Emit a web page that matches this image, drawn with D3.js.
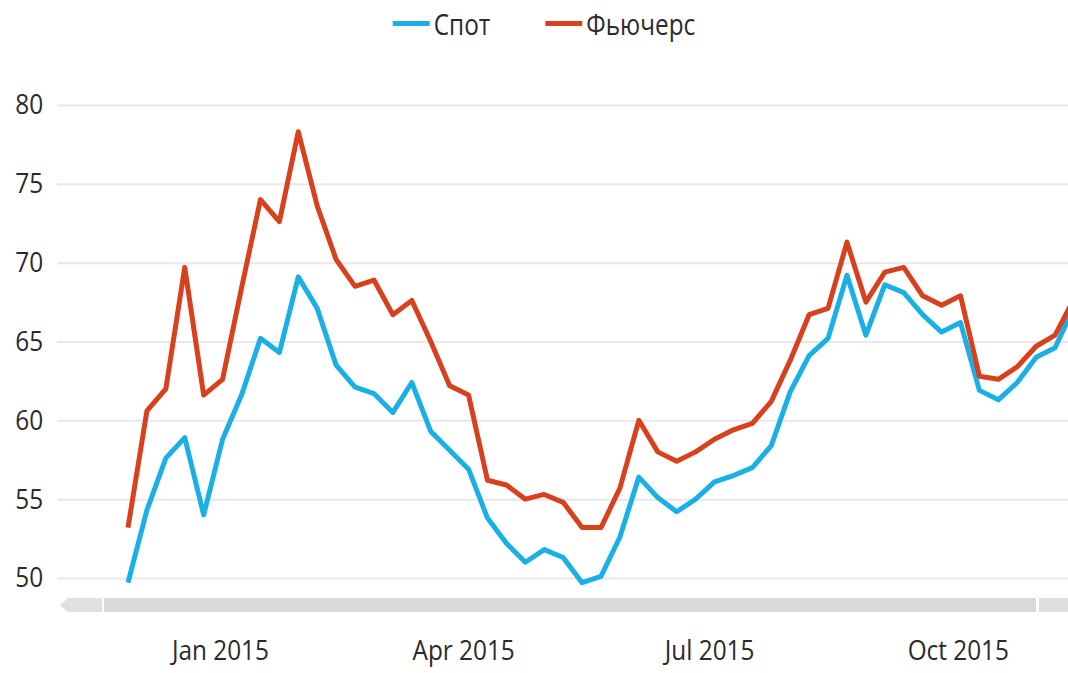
<!DOCTYPE html>
<meta charset="utf-8">

<!-- Load d3.js -->
<script src="https://d3js.org/d3.v7.min.js"></script>

<style>
  body { margin: 0; background: #fff; }
  text { font-family: "Open Sans", "Noto Sans", sans-serif; fill: #2b2b2b; }
</style>

<div id="my_dataviz"></div>

<script>

// weekly dates (Fridays)
var dates = ["2014-11-28","2014-12-05","2014-12-12","2014-12-19","2014-12-26",
  "2015-01-02","2015-01-09","2015-01-16","2015-01-23","2015-01-30",
  "2015-02-06","2015-02-13","2015-02-20","2015-02-27",
  "2015-03-06","2015-03-13","2015-03-20","2015-03-27",
  "2015-04-03","2015-04-10","2015-04-17","2015-04-24",
  "2015-05-01","2015-05-08","2015-05-15","2015-05-22","2015-05-29",
  "2015-06-05","2015-06-12","2015-06-19","2015-06-26",
  "2015-07-03","2015-07-10","2015-07-17","2015-07-24","2015-07-31",
  "2015-08-07","2015-08-14","2015-08-21","2015-08-28",
  "2015-09-04","2015-09-11","2015-09-18","2015-09-25",
  "2015-10-02","2015-10-09","2015-10-16","2015-10-23","2015-10-30",
  "2015-11-06","2015-11-13"];

var spot = [49.7, 54.3, 57.6, 58.9, 54.0, 58.8, 61.6, 65.2, 64.3, 69.1,
  67.1, 63.5, 62.1, 61.7, 60.5, 62.4, 59.3, 58.1, 56.9, 53.8,
  52.2, 51.0, 51.8, 51.3, 49.7, 50.1, 52.6, 56.4, 55.1, 54.2,
  55.0, 56.1, 56.5, 57.0, 58.4, 61.8, 64.1, 65.2, 69.2, 65.4,
  68.6, 68.1, 66.7, 65.6, 66.2, 61.9, 61.3, 62.4, 64.0, 64.6, 67.2];

var futures = [53.2, 60.6, 62.0, 69.7, 61.6, 62.6, 68.4, 74.0, 72.6, 78.3,
  73.6, 70.2, 68.5, 68.9, 66.7, 67.6, 65.0, 62.2, 61.6, 56.2,
  55.9, 55.0, 55.3, 54.8, 53.2, 53.2, 55.7, 60.0, 58.0, 57.4,
  58.0, 58.8, 59.4, 59.8, 61.2, 63.8, 66.7, 67.1, 71.3, 67.5,
  69.4, 69.7, 67.9, 67.3, 67.9, 62.8, 62.6, 63.4, 64.7, 65.4, 67.7];

var yTicks = [50, 55, 60, 65, 70, 75, 80];

var seriesNames = ["Спот", "Фьючерс"];
var seriesColors = ["#1ab0e6", "#d7411e"];

var W = 1068, H = 673;
var parse = d3.timeParse("%Y-%m-%d");
var dateObjs = dates.map(parse);

var series = [
  { name: seriesNames[0], color: seriesColors[0], values: spot },
  { name: seriesNames[1], color: seriesColors[1], values: futures }
];

var svg = d3.select("#my_dataviz")
  .append("svg")
    .attr("width", W)
    .attr("height", H);

// scales
var x = d3.scaleTime()
  .domain([dateObjs[0], dateObjs[dateObjs.length - 1]])
  .range([128, 1074]);

var y = d3.scaleLinear()
  .domain([50, 80])
  .range([578, 105]);

var condense = "scale(0.87,1)";

// grid + y labels
var gy = svg.append("g")
  .attr("transform", "translate(57,0)")
  .call(d3.axisLeft(y).tickValues(yTicks).tickSize(-(W - 57)).tickPadding(16));
gy.select(".domain").remove();
gy.selectAll(".tick line")
  .attr("stroke", "#e8e8e8")
  .attr("stroke-width", 2);
gy.selectAll(".tick text")
  .attr("font-size", "28px")
  .attr("font-family", null)
  .attr("fill", "#2b2b2b")
  .attr("transform", condense);

// scrollbar
var sb = svg.append("g");
sb.append("path")
  .attr("d", "M60,605 L68,598 L102,598 L102,612 L68,612 Z")
  .attr("fill", "#e0e0e0");
sb.append("rect")
  .attr("x", 104).attr("y", 598).attr("width", 932).attr("height", 14)
  .attr("fill", "#d9d9d9");
sb.append("rect")
  .attr("x", 1039).attr("y", 598).attr("width", 40).attr("height", 14)
  .attr("fill", "#dedede");

// x axis
var gx = svg.append("g")
  .attr("transform", "translate(0,640)")
  .call(d3.axisBottom(x).ticks(d3.timeMonth.every(3))
    .tickFormat(d3.timeFormat("%b %Y")).tickSize(0).tickPadding(0));
gx.select(".domain").remove();
gx.selectAll(".tick text")
  .attr("font-size", "28px")
  .attr("font-family", null)
  .attr("fill", "#2b2b2b")
  .attr("transform", condense);

// lines
var line = d3.line()
  .x(function(d, i) { return x(dateObjs[i]); })
  .y(function(d) { return y(d); });

svg.selectAll(".series")
  .data(series)
  .enter()
  .append("path")
    .attr("class", "series")
    .attr("fill", "none")
    .attr("stroke", function(d) { return d.color; })
    .attr("stroke-width", 5)
    .attr("stroke-linejoin", "round")
    .attr("d", function(d) { return line(d.values); });

// legend
var legend = svg.append("g");
var items = legend.selectAll("g")
  .data(series)
  .enter()
  .append("g");
items.append("line")
  .attr("x1", 0).attr("x2", 37)
  .attr("y1", 23.5).attr("y2", 23.5)
  .attr("stroke", function(d) { return d.color; })
  .attr("stroke-width", 5);
items.append("text")
  .attr("x", 0)
  .attr("y", 35)
  .attr("font-size", "29px")
  .attr("transform", "translate(41,0) scale(0.84,1)")
  .text(function(d) { return d.name; });

var pos = 0, offsets = [];
items.each(function() {
  offsets.push(pos);
  var tw = d3.select(this).select("text").node().getComputedTextLength() * 0.84;
  pos += 41 + tw + 55;
});
var total = pos - 55;
var start = 544 - total / 2;
items.attr("transform", function(d, i) { return "translate(" + (start + offsets[i]) + ",0)"; });

</script>
